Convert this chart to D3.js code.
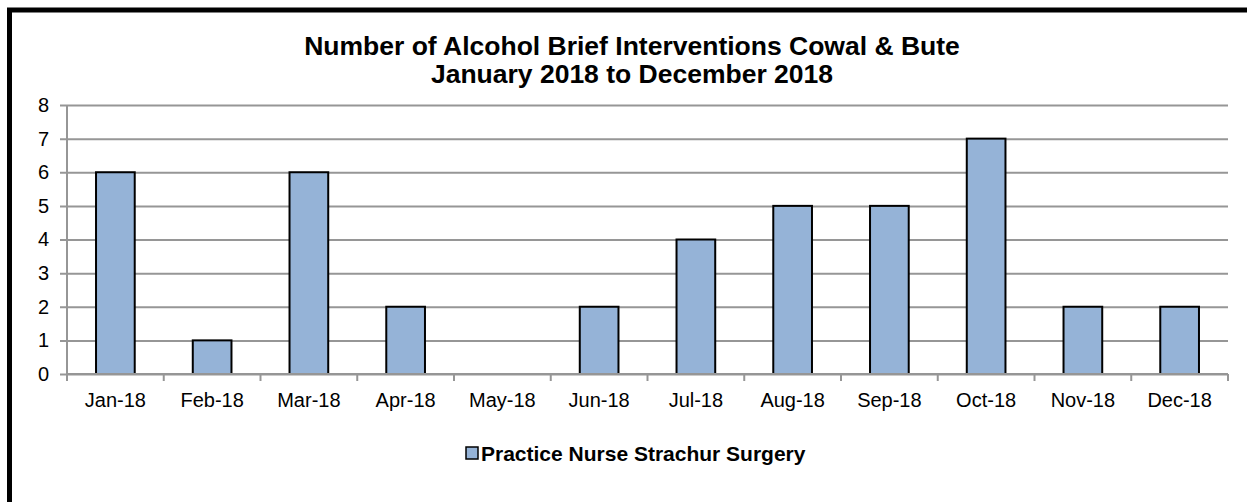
<!DOCTYPE html>
<html>
<head>
<meta charset="utf-8">
<script src="https://cdn.jsdelivr.net/npm/d3@7"></script>
<style>
  body { margin: 0; background: #fff; }
  text { font-family: Arial, "Liberation Sans", sans-serif; fill: #000; }
</style>
</head>
<body>
<svg id="chart" width="1247" height="502"></svg>
<script>
// data
const months = ['Jan-18', 'Feb-18', 'Mar-18', 'Apr-18', 'May-18', 'Jun-18',
                'Jul-18', 'Aug-18', 'Sep-18', 'Oct-18', 'Nov-18', 'Dec-18'];
const interventions = [6, 1, 6, 2, 0, 2, 4, 5, 5, 7, 2, 2];
const yTicks = [0, 1, 2, 3, 4, 5, 6, 7, 8];
const titleLines = ['Number of Alcohol Brief Interventions Cowal & Bute',
                    'January 2018 to December 2018'];
const seriesName = 'Practice Nurse Strachur Surgery';

const svg = d3.select('#chart');
const margin = { left: 67, right: 19, top: 105, bottom: 128 };
const width = 1247 - margin.left - margin.right;
const height = 502 - margin.top - margin.bottom;
const barColor = '#95b3d7';
const gridColor = '#969696';

// outer frame (right / bottom run off the picture)
svg.append('rect')
  .attr('x', 9.5).attr('y', 10)
  .attr('width', 1260).attr('height', 520)
  .attr('fill', 'none')
  .attr('stroke', '#000')
  .attr('stroke-width', 5);

svg.selectAll('.title')
  .data(titleLines)
  .enter().append('text')
  .attr('class', 'title')
  .attr('x', 632)
  .attr('y', (d, i) => 55 + i * 28)
  .attr('text-anchor', 'middle')
  .style('font-size', '26.5px')
  .style('font-weight', 'bold')
  .text(d => d);

const g = svg.append('g')
  .attr('transform', `translate(${margin.left},${margin.top})`);

const x = d3.scaleBand().domain(months).range([0, width]);
const y = d3.scaleLinear().domain([0, 8]).range([height, 0]);

// gridlines + y axis
const yAxis = g.append('g')
  .call(d3.axisLeft(y).tickValues(yTicks).tickSize(-width).tickPadding(18).tickSizeOuter(0));
yAxis.select('.domain').remove();
yAxis.selectAll('.tick line')
  .attr('x1', -7)
  .attr('stroke', gridColor)
  .attr('stroke-width', 2);
yAxis.selectAll('.tick text')
  .style('font-size', '20px');
g.append('line')
  .attr('x1', 0).attr('x2', 0)
  .attr('y1', 0).attr('y2', height)
  .attr('stroke', gridColor)
  .attr('stroke-width', 2);

// bars
const barW = x.bandwidth() * 0.4;
g.selectAll('.bar')
  .data(interventions.map((v, i) => ({ m: months[i], v })).filter(d => d.v > 0))
  .enter().append('rect')
  .attr('class', 'bar')
  .attr('x', d => x(d.m) + (x.bandwidth() - barW) / 2)
  .attr('y', d => y(d.v))
  .attr('width', barW)
  .attr('height', d => height - y(d.v))
  .attr('fill', barColor)
  .attr('stroke', '#000')
  .attr('stroke-width', 2);

// x axis with ticks at category boundaries
const xAxis = g.append('g')
  .attr('transform', `translate(0,${height})`);
xAxis.append('line')
  .attr('x1', 0).attr('x2', width)
  .attr('stroke', gridColor).attr('stroke-width', 2);
xAxis.selectAll('.xtick')
  .data(d3.range(months.length + 1))
  .enter().append('line')
  .attr('x1', i => i * x.step()).attr('x2', i => i * x.step())
  .attr('y1', 0).attr('y2', 7)
  .attr('stroke', gridColor).attr('stroke-width', 2);
xAxis.selectAll('.xlabel')
  .data(months)
  .enter().append('text')
  .attr('x', d => x(d) + x.bandwidth() / 2)
  .attr('y', 33)
  .attr('text-anchor', 'middle')
  .style('font-size', '20px')
  .text(d => d);

// legend
const legend = svg.append('g').attr('transform', 'translate(466,447)');
legend.append('rect')
  .attr('width', 12).attr('height', 12)
  .attr('fill', barColor)
  .attr('stroke', '#000')
  .attr('stroke-width', 1.5);
legend.append('text')
  .attr('x', 15).attr('y', 14)
  .style('font-size', '21px')
  .style('font-weight', 'bold')
  .text(seriesName);
</script>
</body>
</html>
